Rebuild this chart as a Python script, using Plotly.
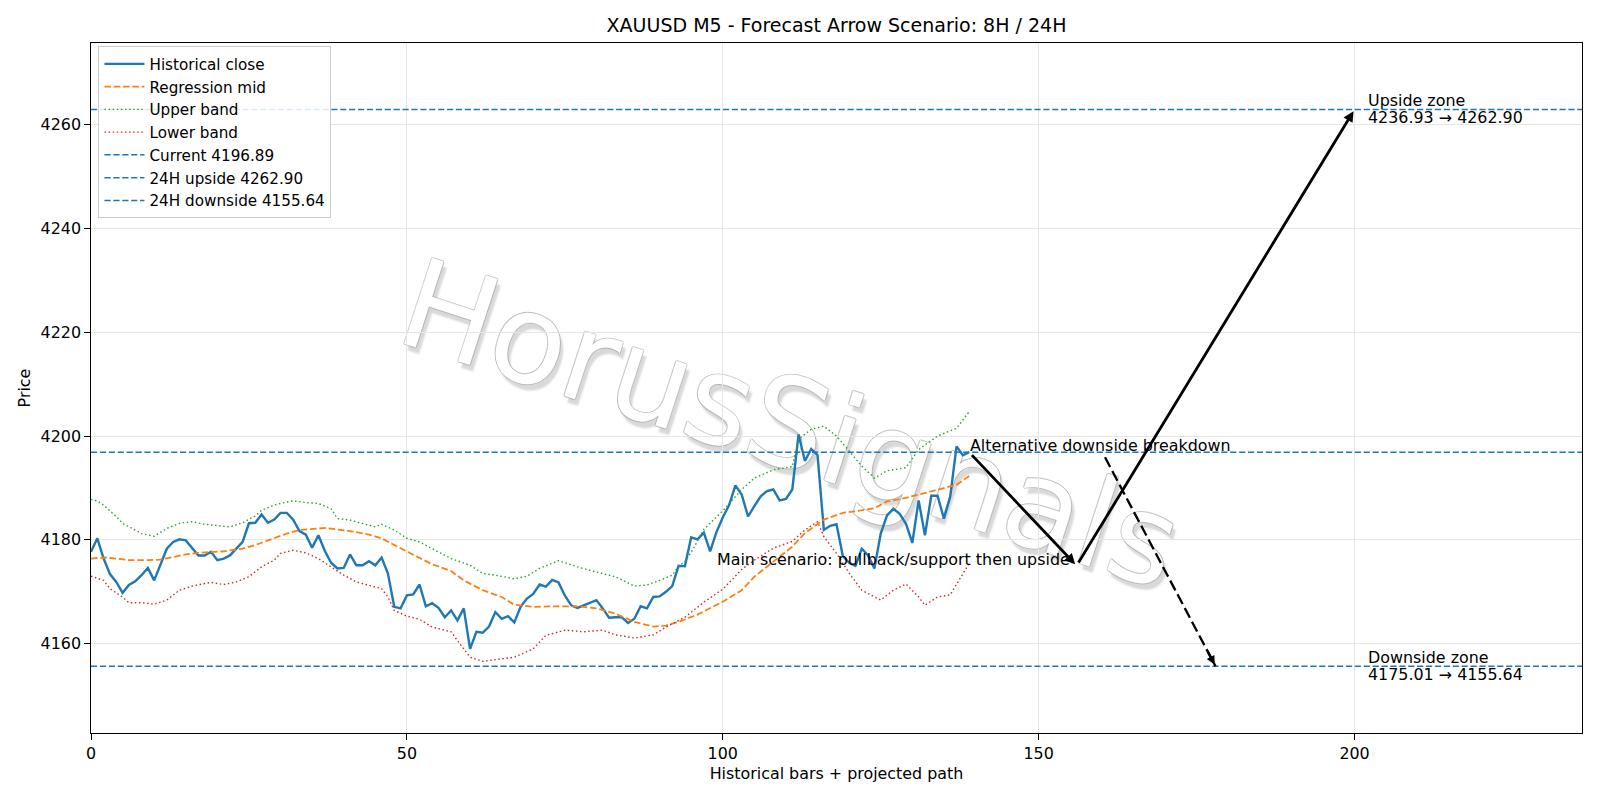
import plotly.graph_objects as go

# ---------------- data ----------------
bars = list(range(140))
close = [
    4177.7, 4180.3, 4176.4, 4173.4, 4171.9, 4169.8, 4171.3, 4172.0, 4173.2, 4174.6,
    4172.2, 4175.4, 4178.3, 4179.6, 4180.1, 4179.9, 4178.5, 4177.0, 4177.0, 4177.7,
    4176.1, 4176.4, 4177.0, 4178.3, 4179.6, 4183.2, 4183.3, 4184.9, 4183.3, 4183.9,
    4185.2, 4185.2, 4183.9, 4181.7, 4181.0, 4178.5, 4180.9, 4177.9, 4175.6, 4174.5,
    4174.6, 4177.2, 4175.1, 4175.1, 4175.9, 4175.1, 4176.6, 4173.5, 4167.1, 4166.8,
    4169.3, 4169.5, 4171.4, 4167.2, 4167.8, 4166.9, 4165.1, 4166.4, 4164.5, 4166.8,
    4159.0, 4162.3, 4162.1, 4163.3, 4166.1, 4164.8, 4165.3, 4164.1, 4167.1, 4168.7,
    4169.6, 4171.4, 4171.0, 4172.3, 4171.8, 4169.3, 4167.4, 4166.9, 4167.4, 4167.8,
    4168.4, 4166.8, 4165.0, 4165.1, 4165.1, 4164.0, 4164.8, 4167.2, 4166.8, 4169.0,
    4169.1, 4170.0, 4171.1, 4175.0, 4174.9, 4180.5, 4180.1, 4181.4, 4177.8, 4181.5,
    4184.3, 4186.7, 4190.5, 4188.7, 4184.5, 4186.5, 4188.4, 4189.4, 4189.7, 4187.6,
    4187.9, 4189.7, 4200.3, 4195.2, 4197.5, 4196.3, 4181.9, 4182.7, 4183.0, 4176.9,
    4175.6, 4175.0, 4178.3, 4177.0, 4174.5, 4181.2, 4184.7, 4186.0, 4185.0, 4183.1,
    4179.4, 4187.6, 4180.9, 4188.5, 4188.5, 4184.1, 4188.3, 4198.0, 4196.3, 4196.89,
]

mid_x = [0, 2, 4, 6, 9, 11, 13, 15, 17, 19, 21, 24, 26, 28, 31, 33, 35, 37, 39, 41,
         44, 46, 48, 50, 52, 54, 57, 59, 62, 65, 67, 70, 73, 77, 80, 83, 86, 89, 91,
         93, 96, 98, 100, 103, 105, 108, 111, 113, 116, 119, 121, 124, 126, 129, 131,
         134, 137, 139]
mid_y = [4176.4, 4176.6, 4176.4, 4176.1, 4176.1, 4176.2, 4176.7, 4177.2, 4177.5, 4177.6,
         4177.8, 4178.3, 4179.0, 4179.9, 4181.2, 4181.9, 4182.1, 4182.3, 4182.0, 4181.7,
         4181.0, 4180.3, 4179.0, 4177.8, 4176.6, 4175.3, 4174.0, 4172.2, 4170.3, 4169.0,
         4167.5, 4167.1, 4167.2, 4167.2, 4166.8, 4165.8, 4164.2, 4163.3, 4163.5,
         4164.2, 4165.6, 4166.8, 4168.1, 4170.3, 4172.9, 4175.8, 4178.7, 4181.3, 4183.9,
         4185.2, 4185.5, 4186.1, 4187.4, 4188.1, 4188.7, 4189.7, 4190.6, 4192.3]

upper_x = [0, 1, 2, 4, 5, 7, 8, 10, 12, 14, 16, 18, 20, 22, 24, 26, 27, 29, 31, 32,
           34, 36, 38, 39, 41, 43, 45, 46, 48, 50, 52, 54, 57, 60, 62, 64, 67, 69, 71,
           74, 77, 80, 83, 86, 88, 90, 92, 93, 94, 95, 97, 100, 103, 105, 108, 111,
           112, 114, 116, 118, 120, 122, 124, 126, 129, 131, 134, 137, 139]
upper_y = [4187.8, 4187.5, 4186.7, 4184.5, 4183.2, 4181.8, 4181.2, 4180.7, 4182.2, 4183.2,
           4183.5, 4183.0, 4182.8, 4182.5, 4183.3, 4184.6, 4185.7, 4186.7, 4187.3, 4187.5,
           4187.2, 4187.0, 4186.0, 4184.1, 4183.8, 4183.2, 4182.5, 4183.0, 4181.9, 4180.3,
           4179.6, 4178.3, 4176.4, 4175.1, 4173.5, 4173.2, 4172.5, 4173.0, 4174.5,
           4176.0, 4174.8, 4173.8, 4172.9, 4171.1, 4171.3, 4172.2, 4173.2, 4174.9, 4175.8,
           4177.6, 4182.0, 4185.6, 4189.7, 4191.9, 4193.5, 4194.1,
           4199.4, 4201.3, 4201.9, 4200.0, 4197.0, 4194.2, 4191.9, 4193.3, 4193.9, 4197.4,
           4200.0, 4201.5, 4204.7]

lower_x = [0, 2, 3, 5, 6, 8, 10, 12, 14, 16, 18, 19, 21, 23, 25, 27, 29, 30, 32, 34,
           36, 38, 40, 42, 44, 46, 47, 48, 50, 52, 54, 57, 58, 60, 62, 64, 67, 70, 72,
           75, 78, 81, 83, 86, 89, 91, 94, 97, 100, 103, 105, 108, 111, 113, 115, 116,
           118, 120, 122, 125, 127, 129, 131, 132, 134, 136, 139]
lower_y = [4173.0, 4172.2, 4170.6, 4169.0, 4167.9, 4167.9, 4167.6, 4168.4, 4170.3, 4171.1,
           4171.6, 4171.8, 4171.4, 4171.9, 4172.9, 4174.8, 4176.1, 4177.4, 4178.0, 4177.5,
           4176.4, 4174.8, 4173.2, 4171.9, 4171.3, 4170.6, 4169.0, 4166.4, 4165.3, 4164.7,
           4163.2, 4162.3, 4160.6, 4157.4, 4156.6, 4156.9, 4157.4, 4159.0, 4161.6,
           4162.6, 4162.3, 4162.6, 4161.7, 4161.1, 4161.7, 4163.2, 4165.1, 4168.0, 4170.5,
           4174.3, 4176.1, 4178.4, 4179.7, 4181.9, 4183.5, 4180.6,
           4177.4, 4173.6, 4170.3, 4168.4, 4170.3, 4171.5, 4169.0, 4167.4, 4169.0, 4169.4,
           4175.5]

current_price = 4196.89
upside_24h = 4262.90
downside_24h = 4155.64
upside_zone = [4236.93, 4262.90]
downside_zone = [4175.01, 4155.64]

hist_end = 139
pullback_x = 156
target_x = 200
alt_start = [160.5, 4195.9]
alt_end_x = 178
zone_label_x = 202
main_label_x = 99

x_range = [0, 236]
y_range = [4142.8, 4275.7]
x_ticks = [0, 50, 100, 150, 200]
y_ticks = [4160, 4180, 4200, 4220, 4240, 4260]

watermark_text = "HorusSignals"

FONT = "DejaVu Sans"
FS = 15.9
BLUE, ORANGE, GREEN, RED = "#1f77b4", "#ff7f0e", "#2ca02c", "#d62728"

fig = go.Figure()

fig.add_trace(go.Scatter(x=bars, y=close, mode="lines", name="Historical close",
                         line=dict(color=BLUE, width=2.4), legendgroup="a"))
fig.add_trace(go.Scatter(x=mid_x, y=mid_y, mode="lines", name="Regression mid",
                         line=dict(color=ORANGE, width=1.8, dash="6.5px,2.8px"), legendgroup="b"))
fig.add_trace(go.Scatter(x=upper_x, y=upper_y, mode="lines", name="Upper band",
                         line=dict(color=GREEN, width=1.4, dash="1.5px,2.6px"), legendgroup="c"))
fig.add_trace(go.Scatter(x=lower_x, y=lower_y, mode="lines", name="Lower band",
                         line=dict(color=RED, width=1.4, dash="1.5px,2.6px"), legendgroup="d"))

for val, label, g in [(current_price, f"Current {current_price:.2f}", "e"),
                      (upside_24h, f"24H upside {upside_24h:.2f}", "f"),
                      (downside_24h, f"24H downside {downside_24h:.2f}", "g")]:
    fig.add_trace(go.Scatter(x=x_range, y=[val, val], mode="lines", name=label,
                             line=dict(color=BLUE, width=1.5, dash="6.2px,2.7px"),
                             legendgroup=g))

# dashed alternative path (line part)
fig.add_trace(go.Scatter(x=[alt_start[0], alt_end_x], y=[alt_start[1], downside_24h],
                         mode="lines", showlegend=False, hoverinfo="skip",
                         line=dict(color="black", width=2.3, dash="11px,4.5px")))

# ---------- watermark: shape label drawn below the data ----------
outline = "rgba(165,165,165,0.6)"
wm_shadow = (f"1px 0 0 {outline}, -1px 0 0 {outline}, 0 1px 0 {outline}, "
             f"0 -1px 0 {outline}, 5px 5px 2px rgba(180,180,180,0.5)")
wm_rect = dict(type="rect", xref="paper", yref="paper", x0=0.371, x1=0.571, y0=0.36, y1=0.56,
               line=dict(width=0), fillcolor="rgba(0,0,0,0)", layer="below")
try:
    wm_shape = go.layout.Shape(**wm_rect, label=dict(
        text=watermark_text, textangle=18, textposition="middle center",
        font=dict(family=FONT, size=124, color="rgba(255,255,255,1)", shadow=wm_shadow)))
except Exception:
    wm_shape = go.layout.Shape(**wm_rect, label=dict(
        text=watermark_text, textangle=18, textposition="middle center",
        font=dict(family=FONT, size=124, color="rgba(190,190,190,0.6)")))
fig.add_shape(wm_shape)

annotations = []
arrow_common = dict(xref="x", yref="y", axref="x", ayref="y", showarrow=True,
                    arrowcolor="black", arrowwidth=2.8, arrowhead=2, arrowsize=0.75,
                    text="", standoff=2, startstandoff=2)
# main scenario: pullback
annotations.append(dict(x=pullback_x, y=downside_zone[0], ax=hist_end, ay=current_price,
                        **arrow_common))
# main scenario: upside
annotations.append(dict(x=target_x, y=upside_zone[1], ax=pullback_x, ay=downside_zone[0],
                        **arrow_common))
# alternative arrow head
head_tail_x = alt_end_x - 0.08 * (alt_end_x - alt_start[0])
head_tail_y = downside_24h - 0.08 * (downside_24h - alt_start[1])
annotations.append(dict(x=alt_end_x, y=downside_24h, ax=head_tail_x, ay=head_tail_y,
                        xref="x", yref="y", axref="x", ayref="y", showarrow=True,
                        arrowcolor="black", arrowwidth=2.3, arrowhead=2, arrowsize=0.75,
                        text="", standoff=2))

txt_font = dict(family=FONT, size=FS, color="black")
annotations.append(dict(text="Alternative downside breakdown", x=hist_end, y=current_price,
                        xref="x", yref="y", showarrow=False, xanchor="left", yanchor="bottom",
                        yshift=-4, borderpad=0, font=txt_font))
annotations.append(dict(text="Main scenario: pullback/support then upside", x=main_label_x,
                        y=downside_zone[0], xref="x", yref="y", showarrow=False,
                        xanchor="left", yanchor="bottom", yshift=-4, borderpad=0, font=txt_font))
for yv, title, zone in [(upside_24h, "Upside zone", upside_zone),
                        (downside_24h, "Downside zone", downside_zone)]:
    annotations.append(dict(text=title, x=zone_label_x, y=yv, xref="x", yref="y",
                            showarrow=False, xanchor="left", yanchor="middle", yshift=8.5,
                            borderpad=0, font=txt_font))
    annotations.append(dict(text=f"{zone[0]:.2f} → {zone[1]:.2f}", x=zone_label_x, y=yv,
                            xref="x", yref="y", showarrow=False, xanchor="left",
                            yanchor="middle", yshift=-8.5, borderpad=0, font=txt_font))

axis_common = dict(showline=True, mirror=True, linecolor="black", linewidth=1.3,
                   ticks="outside", ticklen=5.6, tickwidth=1.3, tickcolor="black",
                   showgrid=True, gridcolor="#e6e6e6", gridwidth=1.3, zeroline=False,
                   tickfont=dict(family=FONT, size=FS, color="black"))

fig.update_layout(
    width=1600, height=800,
    margin=dict(l=91, r=18, t=43, b=67),
    paper_bgcolor="white", plot_bgcolor="white",
    font=dict(family=FONT, size=FS, color="black"),
    title=dict(text="XAUUSD M5 - Forecast Arrow Scenario: 8H / 24H", x=0.5, xref="paper",
               xanchor="center", y=1 - 25.5 / 800, yanchor="middle",
               font=dict(family=FONT, size=19.0, color="black")),
    xaxis=dict(range=x_range, tickvals=x_ticks, ticktext=[str(t) for t in x_ticks],
               title=dict(text="Historical bars + projected path", standoff=6,
                          font=dict(family=FONT, size=FS)),
               **axis_common),
    yaxis=dict(range=y_range, tickvals=y_ticks, ticktext=[str(t) for t in y_ticks],
               title=dict(text="Price", standoff=6, font=dict(family=FONT, size=FS)),
               **axis_common),
    legend=dict(x=0.005, y=0.995, xanchor="left", yanchor="top",
                bgcolor="rgba(255,255,255,0.85)", bordercolor="#cccccc", borderwidth=1,
                font=dict(family=FONT, size=15.2, color="black"),
                tracegroupgap=0, itemwidth=40),
    annotations=annotations,
    showlegend=True,
)

fig.write_html("out.html")
